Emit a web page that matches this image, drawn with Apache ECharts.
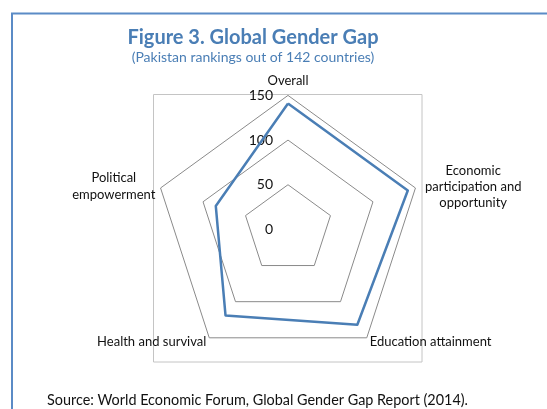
<!DOCTYPE html>
<html>
<head>
<meta charset="utf-8">
<script src="https://cdn.jsdelivr.net/npm/echarts@6/dist/echarts.min.js"></script>
<style>
  html, body { margin: 0; padding: 0; background: #fff; }
  #chart { width: 547px; height: 409px; }
</style>
</head>
<body>
<div id="chart"></div>
<script>
  // indicators run counter-clockwise from the top in echarts radar
  const indicatorNames = ['Overall', 'Political\nempowerment', 'Health and survival', 'Education attainment', 'Economic\nparticipation and\nopportunity'];
  const pakistanRanks = [141, 85, 119, 132, 141];
  const axisMin = 0;
  const axisMax = 150;
  const axisStep = 50;

  const font = 'Lato, "Open Sans", sans-serif';

  const chart = echarts.init(document.getElementById('chart'));

  chart.setOption({
    animation: false,
    title: [
      {
        text: 'Figure 3. Global Gender Gap',
        subtext: '(Pakistan rankings out of 142 countries)',
        left: 248,
        top: 23,
        textAlign: 'center',
        itemGap: 2,
        textStyle: { fontFamily: font, fontSize: 20, fontWeight: 'bold', color: '#4a7eb5' },
        subtextStyle: { fontFamily: font, fontSize: 14, color: '#4a7eb5' }
      },
      {
        text: 'Source: World Economic Forum, Global Gender Gap Report (2014).',
        left: 42,
        top: 388,
        textStyle: { fontFamily: font, fontSize: 14.4, fontWeight: 'normal', color: '#111' }
      }
    ],
    graphic: [
      {
        type: 'rect',
        shape: { x: 12, y: 13.5, width: 600, height: 460 },
        style: { fill: 'none', stroke: '#5b8bc6', lineWidth: 2 },
        silent: true
      },
      {
        type: 'rect',
        shape: { x: 153.5, y: 94.5, width: 268.5, height: 267.5 },
        style: { fill: 'none', stroke: '#c4c4c4', lineWidth: 1 },
        silent: true
      }
    ],
    radar: {
      center: [288, 229.4],
      radius: 134,
      startAngle: 90,
      shape: 'polygon',
      splitNumber: 3,
      nameGap: 5,
      axisName: {
        fontFamily: font,
        fontSize: 13,
        color: '#111',
        lineHeight: 16,
        formatter: function (value) {
          if (value.indexOf('\n') < 0) return value;
          const key = value.indexOf('Economic') === 0 ? 'eco' : 'pol';
          return value.split('\n').map(s => '{' + key + '|' + s + '}').join('\n');
        },
        rich: {
          eco: { width: 106, align: 'center', fontFamily: font, fontSize: 13, color: '#111', lineHeight: 16 },
          pol: { width: 84, align: 'center', fontFamily: font, fontSize: 13, color: '#111', lineHeight: 17 }
        }
      },
      axisLine: { show: false },
      axisTick: { show: false },
      axisLabel: { show: false },
      splitArea: { show: false },
      splitLine: { lineStyle: { color: '#8a8a8a', width: 1 } },
      indicator: indicatorNames.map((name, i) => ({
        name: name,
        min: axisMin,
        max: axisMax,
        interval: axisStep,
        axisLabel: i === 0
          ? { show: true, fontFamily: font, fontSize: 14, color: '#111', margin: 15 }
          : { show: false }
      }))
    },
    series: [
      {
        name: 'Pakistan',
        type: 'radar',
        symbol: 'none',
        lineStyle: { color: '#4a7eb5', width: 2.5 },
        data: [{ value: pakistanRanks, name: 'Pakistan' }]
      }
    ]
  });
</script>
</body>
</html>
